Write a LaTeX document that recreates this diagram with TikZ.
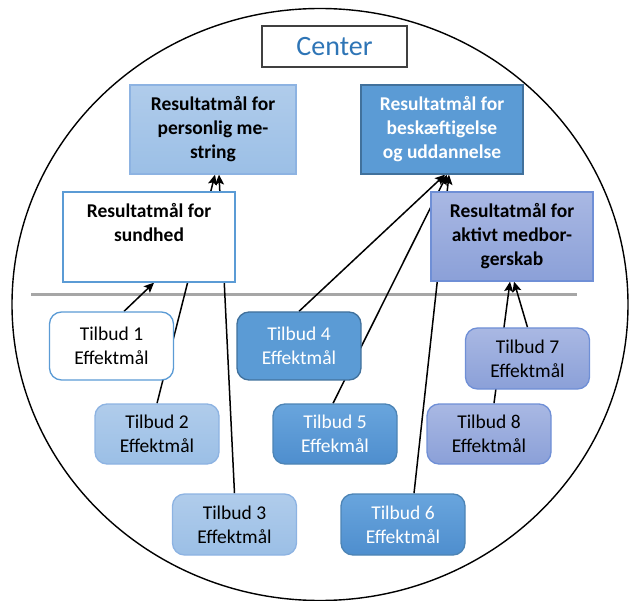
\documentclass[tikz,border=0pt]{standalone}
\usepackage{fontspec}
\setmainfont{Carlito}
\usetikzlibrary{arrows.meta}
\pgfdeclarelayer{background}
\pgfsetlayers{background,main}
\definecolor{lbtop}{HTML}{B0CCEB}
\definecolor{lbbot}{HTML}{9BBFE6}
\definecolor{lbborder}{HTML}{8DB3E2}
\definecolor{mbtop}{HTML}{69A5DD}
\definecolor{mbbot}{HTML}{4E8ECE}
\definecolor{mbfill}{HTML}{5B9BD5}
\definecolor{mbdark}{HTML}{41719C}
\definecolor{lvtop}{HTML}{A9B8E3}
\definecolor{lvbot}{HTML}{8BA0D8}
\definecolor{lvborder}{HTML}{6F8FD6}
\definecolor{wborder}{HTML}{5B9BD5}
\definecolor{centerblue}{HTML}{2E75B6}
\definecolor{sepgray}{HTML}{A6A6A6}
\tikzset{
  txt/.style={font=\fontsize{19.5}{24}\selectfont, align=center, inner sep=0pt},
  res/.style={txt, font=\fontsize{19.5}{24}\selectfont\bfseries, line width=1.3pt},
  tilbud/.style={txt, rounded corners=12pt, line width=1.3pt, minimum width=124pt},
  lightblue/.style={draw=lbborder, top color=lbtop, bottom color=lbbot},
  midblue/.style={draw=mbfill!85!black, top color=mbtop, bottom color=mbbot, text=white},
  darkblue/.style={draw=mbdark, fill=mbfill, text=white},
  lavender/.style={draw=lvborder, top color=lvtop, bottom color=lvbot},
  whitebox/.style={draw=wborder, fill=white},
  arr/.style={line width=1.5pt, -{Stealth[length=10pt,width=9pt,inset=2pt]}},
}
\begin{document}
\begin{tikzpicture}[x=1pt,y=-1pt]
\useasboundingbox (0,0) rectangle (629,601);
\draw[line width=1.4pt] (320,304.5) ellipse [x radius=308, y radius=296];
% center
\node[draw=black!75, line width=1.3pt, fill=white, minimum width=145pt, minimum height=41pt, inner sep=0pt,
      font=\fontsize{28}{30}\selectfont, text=centerblue] (center) at (334.5,46.5) {Center};
% result boxes
\node[res, lightblue, minimum width=166pt, minimum height=89pt] (mest) at (213,129.5)
  {Resultatmål for\\personlig me-\\string};
\node[res, darkblue, minimum width=162pt, minimum height=89pt] (besk) at (442,129.5)
  {Resultatmål for\\beskæftigelse\\og uddannelse};
\node[res, whitebox, minimum width=172pt, minimum height=90pt] (sund) at (149,237) {};
\node[txt, font=\fontsize{19.5}{24}\selectfont\bfseries, anchor=center] (sundtxt) at (149,223)
  {Resultatmål for\\sundhed};
\node[res, lavender, minimum width=162pt, minimum height=89pt] (akt) at (512,236.5)
  {Resultatmål for\\aktivt medbor-\\gerskab};
% tilbud boxes
\node[tilbud, whitebox, minimum height=68pt] (t1) at (111.5,346) {Tilbud 1\\Effektmål};
\node[tilbud, lightblue, minimum height=60pt] (t2) at (157,434) {Tilbud 2\\Effektmål};
\node[tilbud, lightblue, minimum height=61pt] (t3) at (234.5,524.5) {Tilbud 3\\Effektmål};
\node[tilbud, darkblue, minimum height=68pt] (t4) at (299,346) {Tilbud 4\\Effektmål};
\node[tilbud, midblue, minimum height=60pt] (t5) at (335,434) {Tilbud 5\\Effekmål};
\node[tilbud, midblue, minimum height=61pt] (t6) at (403,524.5) {Tilbud 6\\Effektmål};
\node[tilbud, lavender, minimum height=61pt] (t7) at (527.5,358.5) {Tilbud 7\\Effektmål};
\node[tilbud, lavender, minimum height=60pt] (t8) at (489,434) {Tilbud 8\\Effektmål};
\begin{pgfonlayer}{background}
\coordinate (sepl) at (31,295);
\coordinate (sepr) at (577,295);
\draw[sepgray, line width=3pt] (sepl) -- (sepr);
\draw[arr] ([xshift=12.5pt]t1.north) -- ([xshift=5pt]sund.south);
\draw[arr] (t2.north) -- ([xshift=2pt]mest.south);
\draw[arr] (t3.north) -- ([xshift=6pt]mest.south);
\draw[arr] (t4.north) -- ([xshift=3pt]besk.south);
\draw[arr] ([xshift=-2pt]t5.north) -- ([xshift=5pt]besk.south);
\draw[arr] ([xshift=11pt]t6.north) -- ([xshift=7pt]besk.south);
\draw[arr] (t7.north) -- ([xshift=2pt]akt.south);
\draw[arr] ([xshift=5pt]t8.north) -- ([xshift=-2pt]akt.south);
\end{pgfonlayer}
\end{tikzpicture}
\end{document}
